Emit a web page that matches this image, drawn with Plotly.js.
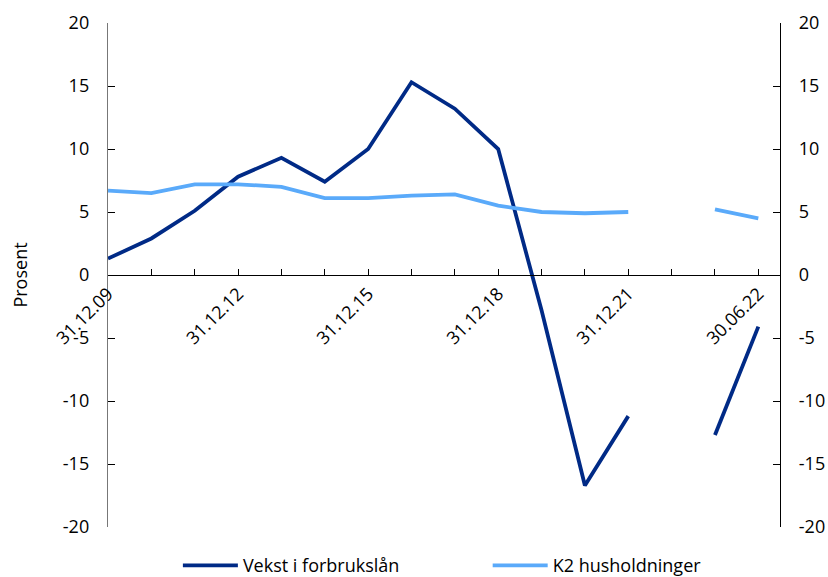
<!DOCTYPE html>
<html>
<head>
<meta charset="utf-8">
<script src="https://cdn.plot.ly/plotly-3.0.1.min.js"></script>
<style>html,body{margin:0;padding:0;background:#fff;}#chart{width:828px;height:577px;}</style>
</head>
<body>
<div id="chart"></div>
<script>
var categories = ["31.12.09","31.12.10","31.12.11","31.12.12","31.12.13","31.12.14","31.12.15","31.12.16","31.12.17","31.12.18","31.12.19","31.12.20","31.12.21"," ","31.03.22","30.06.22"];
var tickLabels = ["31.12.09","","","31.12.12","","","31.12.15","","","31.12.18","","","31.12.21","","","30.06.22"];
var vekstForbrukslan = [1.3, 2.9, 5.1, 7.8, 9.3, 7.4, 10.0, 15.3, 13.2, 10.0, -2.8, -16.7, -11.2, null, -12.7, -4.1];
var k2Husholdninger = [6.7, 6.5, 7.2, 7.2, 7.0, 6.1, 6.1, 6.3, 6.4, 5.5, 5.0, 4.9, 5.0, null, 5.2, 4.5];
var seriesNames = ["Vekst i forbrukslån", "K2 husholdninger"];
var yTicks = [-20, -15, -10, -5, 0, 5, 10, 15, 20];
var yTickText = ["-20", "-15", "-10", "-5", "0", "5", "10", "15", "20"];

var font = "'Open Sans', 'Noto Sans', sans-serif";
var traces = [
  {x: categories, y: vekstForbrukslan, name: seriesNames[0], type: "scatter", mode: "lines",
   line: {color: "#002a86", width: 3.8}, connectgaps: false, hoverinfo: "skip", legend: "legend"},
  {x: categories, y: k2Husholdninger, name: seriesNames[1], type: "scatter", mode: "lines",
   line: {color: "#5aaafa", width: 3.8}, connectgaps: false, hoverinfo: "skip", legend: "legend2"},
  {x: [categories[0]], y: [null], yaxis: "y2", showlegend: false, mode: "lines", hoverinfo: "skip"}
];
var legendBase = {orientation: "h", xanchor: "left", y: -0.04, yanchor: "top",
                  font: {size: 18, family: font}, itemwidth: 55, bgcolor: "rgba(0,0,0,0)"};
var layout = {
  width: 828, height: 577,
  margin: {l: 108, r: 48, t: 23, b: 50, autoexpand: false},
  paper_bgcolor: "#fff", plot_bgcolor: "#fff",
  font: {family: font, size: 18, color: "#000"},
  showlegend: true,
  legend: Object.assign({}, legendBase, {x: 0.104}),
  legend2: Object.assign({}, legendBase, {x: 0.565}),
  xaxis: {
    type: "category", categoryorder: "array", categoryarray: categories,
    range: [0, 15.5], anchor: "free", position: 0.5, automargin: false,
    tickmode: "array", tickvals: categories, ticktext: tickLabels,
    tickangle: -45, ticks: "inside", ticklen: 6, tickcolor: "#000", tickwidth: 1,
    showline: true, linecolor: "#000", linewidth: 1.2,
    showgrid: false, zeroline: false, tickfont: {size: 18, family: font}
  },
  yaxis: {
    range: [-20, 20], tickmode: "array", tickvals: yTicks, ticktext: yTickText,
    ticks: "inside", ticklen: 7, tickcolor: "#000", ticklabelstandoff: 14,
    showline: true, linecolor: "#777", linewidth: 1.2,
    showgrid: false, zeroline: false, tickfont: {size: 18, family: font},
    title: {text: "Prosent", font: {size: 18, family: font}, standoff: 30}
  },
  yaxis2: {
    range: [-20, 20], overlaying: "y", side: "right", tickmode: "array", tickvals: yTicks, ticktext: yTickText,
    ticks: "inside", ticklen: 7, tickcolor: "#000", ticklabelstandoff: 14,
    showline: true, linecolor: "#000", linewidth: 1.2,
    showgrid: false, zeroline: false, tickfont: {size: 18, family: font}
  }
};
Plotly.newPlot("chart", traces, layout, {staticPlot: true});
</script>
</body>
</html>
